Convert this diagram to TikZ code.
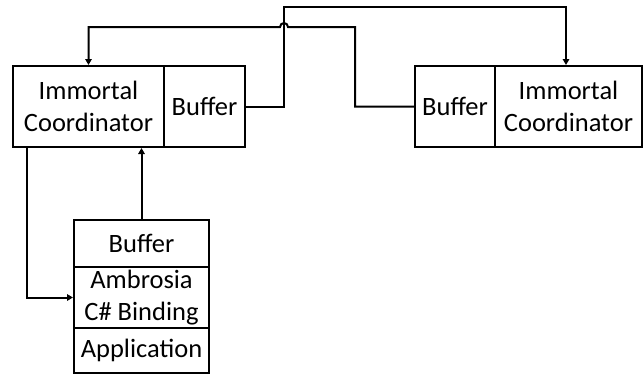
\documentclass[tikz,border=0pt]{standalone}
\usepackage{fontspec}
\setmainfont{Carlito}
\usetikzlibrary{arrows.meta}
\tikzset{
  box/.style={draw, line width=2pt, rectangle, inner sep=0pt, align=center,
    font=\fontsize{26.5}{32}\selectfont},
  conn/.style={line width=2pt, -{Triangle[length=6pt,width=6.5pt]}}
}
\begin{document}
\begin{tikzpicture}[x=1pt,y=-1pt]
\useasboundingbox (0,0) rectangle (644,375);
\node[box, minimum width=151pt, minimum height=81pt] (lic) at (88.5,106.5) {Immortal\\Coordinator};
\node[box, minimum width=81pt, minimum height=81pt] (lbuf) at (204.5,106.5) {Buffer};
\node[box, minimum width=80pt, minimum height=81pt] (rbuf) at (455,106.5) {Buffer};
\node[box, minimum width=147pt, minimum height=81pt] (ric) at (568.5,106.5) {Immortal\\Coordinator};
\node[box, minimum width=135pt, minimum height=47pt] (sbuf) at (141.5,243.5) {Buffer};
\node[box, minimum width=135pt, minimum height=61pt] (sbind) at (141.5,297.5) {Ambrosia\\C\# Binding};
\node[box, minimum width=135pt, minimum height=45pt] (sapp) at (141.5,350.5) {Application};
\coordinate (c1) at (284,7);
\coordinate (c2) at (355,27);
\draw[conn] (lbuf.east) -| (c1) -| ([xshift=-2.5pt]ric.north);
\draw[conn] (rbuf.west) -| (c2) -- (288,27) arc[start angle=0, end angle=180, radius=4pt] -| (lic.north);
\draw[conn] ([xshift=15pt]lic.south west) |- (sbind.west);
\draw[conn] (sbuf.north) -- (sbuf.north |- lic.south);
\end{tikzpicture}
\end{document}
